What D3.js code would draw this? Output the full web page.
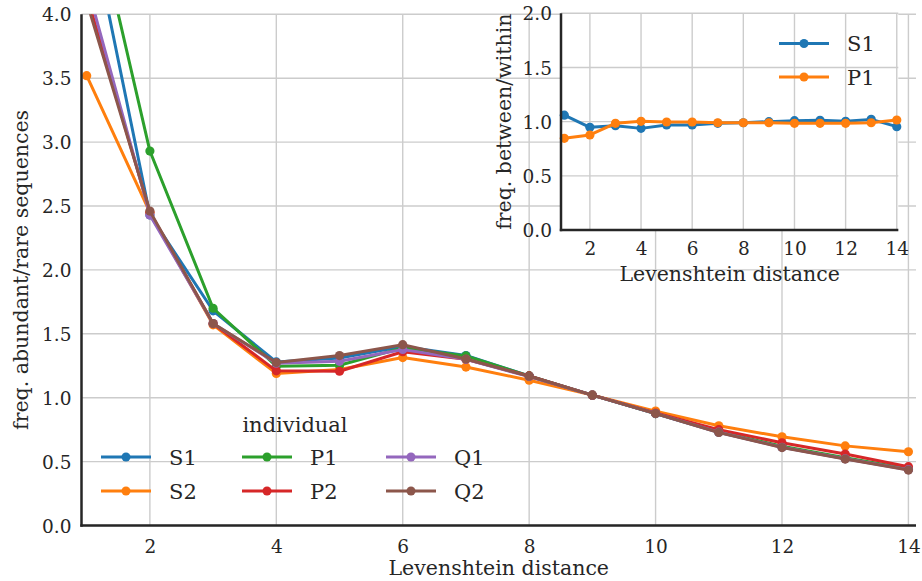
<!DOCTYPE html>
<html><head><meta charset="utf-8">
<script src="https://cdn.jsdelivr.net/npm/d3@7"></script>
<style>
body{margin:0;background:#fff}
svg{display:block}
text{font-family:"DejaVu Serif",serif;fill:#262626}
</style>
</head><body>
<svg id="chart" width="922" height="581"></svg>
<script>
// ---- data ----
const distances = [1,2,3,4,5,6,7,8,9,10,11,12,13,14];
const seriesNames = ["S1","S2","P1","P2","Q1","Q2"];
const seriesColors = ["#1f77b4","#ff7f0e","#2ca02c","#d62728","#9467bd","#8c564b"];
const S1 = [4.85,2.43,1.68,1.28,1.31,1.40,1.33,1.17,1.02,0.876,0.73,0.615,0.525,0.44];
const S2 = [3.52,2.45,1.57,1.19,1.22,1.314,1.24,1.137,1.02,0.895,0.78,0.694,0.623,0.577];
const P1 = [5.07,2.93,1.70,1.246,1.254,1.39,1.327,1.17,1.02,0.876,0.735,0.62,0.53,0.445];
const P2 = [4.15,2.45,1.58,1.21,1.207,1.36,1.30,1.17,1.02,0.88,0.75,0.647,0.559,0.46];
const Q1 = [4.24,2.43,1.58,1.27,1.285,1.377,1.30,1.165,1.02,0.876,0.73,0.612,0.522,0.437];
const Q2 = [4.10,2.46,1.58,1.275,1.33,1.415,1.303,1.168,1.02,0.876,0.728,0.61,0.52,0.434];
const mainValues = [S1,S2,P1,P2,Q1,Q2];
const mainXTicks = [2,4,6,8,10,12,14];
const mainYTicks = [0,0.5,1,1.5,2,2.5,3,3.5,4];

const insetNames = ["S1","P1"];
const insetColors = ["#1f77b4","#ff7f0e"];
const insetS1 = [1.06,0.948,0.963,0.938,0.969,0.969,0.985,0.99,1.0,1.009,1.012,1.003,1.021,0.954];
const insetP1 = [0.846,0.877,0.985,1.003,0.997,0.997,0.99,0.99,0.99,0.985,0.985,0.985,0.99,1.015];
const insetValues = [insetS1, insetP1];
const insetXTicks = [2,4,6,8,10,12,14];
const insetYTicks = [0,0.5,1,1.5,2];

// ---- drawing ----
const svg = d3.select("#chart");
const GRID = "#cccccc", SPINE = "#262626";
const TICK_FS = "18.5px", LABEL_FS = "20.5px", LEG_FS = "21px";

function drawAxes(g, x, y, xTicks, yTicks, opts){
  const [x0,x1] = x.range(), [y0,y1] = y.range();
  if (opts.bg) g.append("rect").attr("x",x0).attr("y",y1).attr("width",x1-x0).attr("height",y0-y1).attr("fill","#fff");
  const grid = g.append("g");
  grid.selectAll(".vx").data(xTicks).join("line")
    .attr("x1",d=>x(d)).attr("x2",d=>x(d)).attr("y1",y0).attr("y2",y1)
    .attr("stroke",GRID).attr("stroke-width",1.4);
  grid.selectAll(".hy").data(yTicks).join("line")
    .attr("x1",x0).attr("x2",x1).attr("y1",d=>y(d)).attr("y2",d=>y(d))
    .attr("stroke",GRID).attr("stroke-width",1.4);
  const xa = g.append("g").attr("transform",`translate(0,${y0})`)
    .call(d3.axisBottom(x).tickValues(xTicks).tickSize(0).tickPadding(opts.xpad).tickFormat(d3.format("d")));
  const ya = g.append("g").attr("transform",`translate(${x0},0)`)
    .call(d3.axisLeft(y).tickValues(yTicks).tickSize(0).tickPadding(opts.ypad).tickFormat(d3.format(".1f")));
  [xa,ya].forEach(a=>{
    a.select(".domain").remove();
    a.selectAll("text").attr("font-family","DejaVu Serif").attr("font-size",TICK_FS).attr("fill",SPINE);
  });
  ya.selectAll("text").attr("dy","0.36em");
  return {x0,x1,y0,y1};
}
function drawSpines(g, b){
  g.append("line").attr("x1",b.x0).attr("x2",b.x0).attr("y1",b.y0+1.2).attr("y2",b.y1)
    .attr("stroke",SPINE).attr("stroke-width",2.5);
  g.append("line").attr("x1",b.x0-1.2).attr("x2",b.x1).attr("y1",b.y0).attr("y2",b.y0)
    .attr("stroke",SPINE).attr("stroke-width",2.5);
}
function drawSeries(g, x, y, values, colors, clipId, r){
  const line = d3.line().x((d,i)=>x(distances[i])).y(d=>y(d));
  const sg = g.append("g").attr("clip-path",`url(#${clipId})`);
  values.forEach((vals,k)=>{
    const s = sg.append("g");
    s.append("path").datum(vals).attr("d",line).attr("fill","none")
      .attr("stroke",colors[k]).attr("stroke-width",3).attr("stroke-linejoin","round").attr("stroke-linecap","round");
    s.selectAll("circle").data(vals).join("circle")
      .attr("cx",(d,i)=>x(distances[i])).attr("cy",d=>y(d)).attr("r",r).attr("fill",colors[k]);
  });
}
function addClip(id, b){
  svg.append("defs").append("clipPath").attr("id",id).append("rect")
    .attr("x",b.x0-8).attr("y",b.y1).attr("width",b.x1-b.x0+16).attr("height",b.y0-b.y1+8);
}
function legendEntry(g, xLine, yRow, color, label){
  g.append("line").attr("x1",xLine).attr("x2",xLine+50).attr("y1",yRow).attr("y2",yRow)
    .attr("stroke",color).attr("stroke-width",3);
  g.append("circle").attr("cx",xLine+25).attr("cy",yRow).attr("r",4.5).attr("fill",color);
  g.append("text").attr("x",xLine+68).attr("y",yRow).attr("dy","0.36em")
    .attr("font-size",LEG_FS).text(label);
}

// main axes
const mx = d3.scaleLinear().domain([0.918,14.12]).range([81.5,916]);
const my = d3.scaleLinear().domain([0,4]).range([525.5,14.3]);
const main = svg.append("g");
const mb = drawAxes(main, mx, my, mainXTicks, mainYTicks, {xpad:14, ypad:10});
addClip("clipMain", mb);
drawSeries(main, mx, my, mainValues, seriesColors, "clipMain", 4.6);
drawSpines(main, mb);
main.append("text").attr("x",(mb.x0+mb.x1)/2).attr("y",575).attr("text-anchor","middle")
  .attr("font-size",LABEL_FS).text("Levenshtein distance");
main.append("text").attr("transform",`translate(28,${(mb.y0+mb.y1)/2}) rotate(-90)`)
  .attr("text-anchor","middle").attr("font-size",LABEL_FS).text("freq. abundant/rare sequences");

// main legend
const leg = main.append("g");
leg.append("text").attr("x",295).attr("y",424).attr("dy","0.36em").attr("text-anchor","middle")
  .attr("font-size",LEG_FS).text("individual");
const legCols = [101,242,386], legRows = [457,491];
seriesNames.forEach((n,k)=>{
  legendEntry(leg, legCols[Math.floor(k/2)], legRows[k%2], seriesColors[k], n);
});

// inset axes
const ix = d3.scaleLinear().domain([0.87,14.06]).range([561,898.3]);
const iy = d3.scaleLinear().domain([0,2]).range([230,13.3]);
const inset = svg.append("g");
const ib = drawAxes(inset, ix, iy, insetXTicks, insetYTicks, {xpad:12, ypad:9, bg:true});
addClip("clipInset", ib);
drawSeries(inset, ix, iy, insetValues, insetColors, "clipInset", 4.6);
drawSpines(inset, ib);
inset.append("text").attr("x",(ib.x0+ib.x1)/2).attr("y",281).attr("text-anchor","middle")
  .attr("font-size",LABEL_FS).text("Levenshtein distance");
inset.append("text").attr("transform",`translate(511,${(ib.y0+ib.y1)/2}) rotate(-90)`)
  .attr("text-anchor","middle").attr("font-size",LABEL_FS).text("freq. between/within");
const ileg = inset.append("g");
insetNames.forEach((n,k)=>{
  legendEntry(ileg, 779, [43.5,77][k], insetColors[k], n);
});
</script>
</body></html>
